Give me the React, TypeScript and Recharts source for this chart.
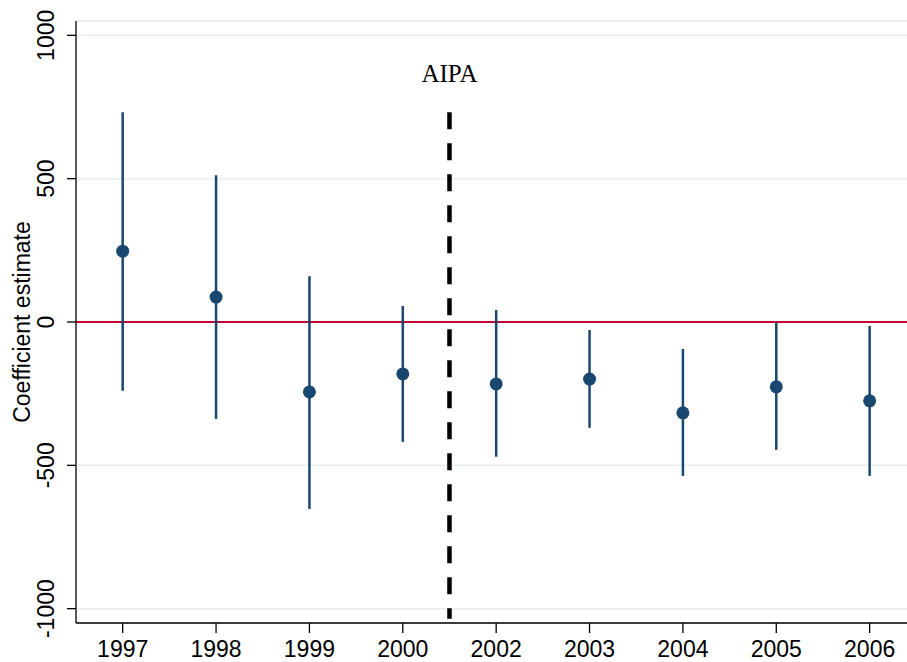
import React from 'react';
import {
  ComposedChart,
  Scatter,
  ErrorBar,
  XAxis,
  YAxis,
  CartesianGrid,
  ReferenceLine,
  ReferenceDot,
} from 'recharts';

const years = ['1997', '1998', '1999', '2000', '2002', '2003', '2004', '2005', '2006'];
const estimates = [247, 87, -244, -181, -216, -199, -317, -226, -275];
const upperCI = [732, 512, 160, 56, 42, -28, -94, -3, -14];
const lowerCI = [-240, -338, -652, -418, -470, -369, -537, -446, -537];
const yTicks = [-1000, -500, 0, 500, 1000];
const eventLabel = 'AIPA';
const eventPosition = 3.5;
const eventTop = 732;
const eventBottom = -1035;
const eventLabelY = 864;

const NAVY = '#1a476f';
const RED = '#c10534';
const GRID = '#e6eef1';

const data = years.map((y, i) => ({
  idx: i,
  year: y,
  est: estimates[i],
  err: [estimates[i] - lowerCI[i], upperCI[i] - estimates[i]],
}));

const FONT = '"Liberation Sans", Arial, Helvetica, sans-serif';

const YTick = (props: any) => {
  const { y, payload } = props;
  return (
    <text
      transform={`translate(${46 + 8}, ${y}) rotate(-90)`}
      textAnchor="middle"
      fontFamily={FONT}
      fontSize={23}
      fill="#000"
    >
      {payload.value}
    </text>
  );
};

const XTick = (props: any) => {
  const { x, payload } = props;
  return (
    <text
      x={x}
      y={657}
      textAnchor="middle"
      fontFamily={FONT}
      fontSize={23}
      fill="#000"
    >
      {years[payload.value]}
    </text>
  );
};

const Dot = (props: any) => {
  const { cx, cy } = props;
  if (cx == null || cy == null) return null;
  return <circle cx={cx} cy={cy} r={6.5} fill={NAVY} />;
};

const AipaLabel = (props: any) => {
  const vb = props.viewBox || {};
  const cx = vb.x + (vb.width || 0) / 2;
  const cy = vb.y + (vb.height || 0) / 2;
  return (
    <text
      x={cx}
      y={cy + 8}
      textAnchor="middle"
      fontFamily='"Liberation Serif", "Times New Roman", serif'
      fontSize={25}
      fill="#000"
    >
      {eventLabel}
    </text>
  );
};

export default function App() {
  return (
    <div style={{ position: 'absolute', left: 0, top: 0, width: 907, height: 662, background: '#fff' }}>
      <ComposedChart
        width={907}
        height={662}
        data={data}
        margin={{ top: 21, right: 0, left: 0, bottom: 0 }}
      >
        <CartesianGrid vertical={false} stroke={GRID} strokeWidth={1.5} />
        <XAxis
          type="number"
          dataKey="idx"
          domain={[-0.5, 8.4]}
          ticks={[0, 1, 2, 3, 4, 5, 6, 7, 8]}
          allowDataOverflow
          height={39}
          tickSize={10}
          tick={<XTick />}
          stroke="#000"
          strokeWidth={1.3}
          tickLine={{ stroke: '#000', strokeWidth: 1.3 }}
        />
        <YAxis
          type="number"
          domain={[-1050, 1050]}
          ticks={yTicks}
          allowDataOverflow
          width={76}
          tickSize={9}
          tick={<YTick />}
          stroke="#000"
          strokeWidth={1.3}
          tickLine={{ stroke: '#000', strokeWidth: 1.3 }}
          label={{
            value: 'Coefficient estimate',
            angle: -90,
            position: 'insideLeft',
            content: () => (
              <text
                transform={`translate(30, 322) rotate(-90)`}
                textAnchor="middle"
                fontFamily={FONT}
                fontSize={23}
                fill="#000"
              >
                Coefficient estimate
              </text>
            ),
          }}
        />
        <ReferenceLine y={0} stroke={RED} strokeWidth={2} />
        <ReferenceLine
          segment={[
            { x: eventPosition, y: eventTop },
            { x: eventPosition, y: eventBottom },
          ]}
          stroke="#000"
          strokeWidth={4.5}
          strokeDasharray="17 14"
        />
        <ReferenceDot
          x={eventPosition}
          y={eventLabelY}
          r={0}
          fill="none"
          stroke="none"
          label={<AipaLabel />}
        />
        <Scatter dataKey="est" fill={NAVY} shape={<Dot />} isAnimationActive={false}>
          <ErrorBar
            dataKey="err"
            direction="y"
            width={0}
            stroke={NAVY}
            strokeWidth={2.5}
            isAnimationActive={false}
          />
        </Scatter>
      </ComposedChart>
    </div>
  );
}
